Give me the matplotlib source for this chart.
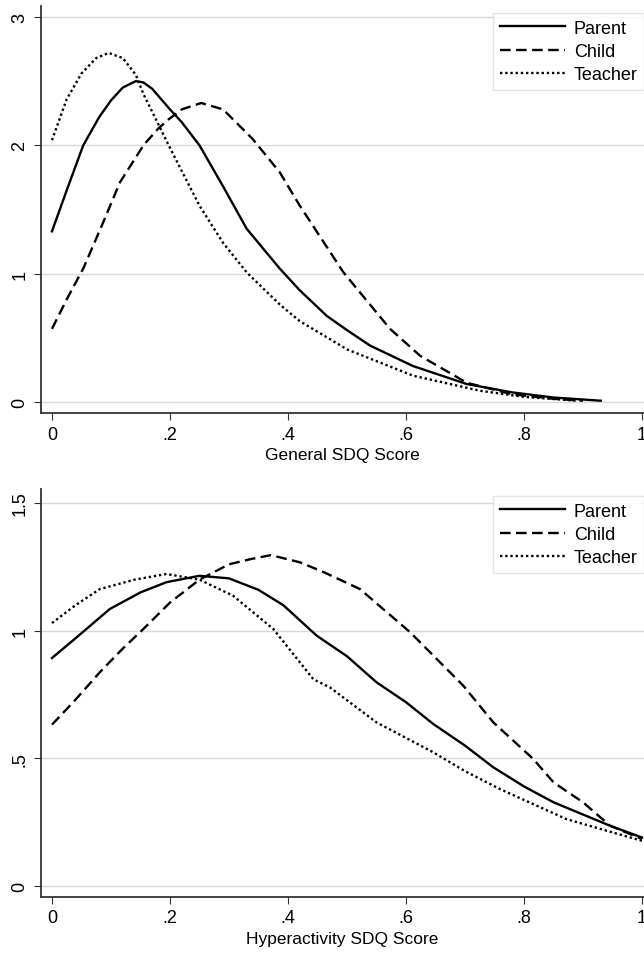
import numpy as np
import matplotlib.pyplot as plt

plt.rcParams['font.family'] = ['Liberation Sans', 'DejaVu Sans']

# General SDQ score densities
gen_parent_x = [0, 0.025, 0.053, 0.08, 0.1, 0.12, 0.142, 0.155, 0.17, 0.2, 0.22, 0.25, 0.29, 0.33,
                0.386, 0.42, 0.466, 0.5, 0.539, 0.612, 0.703, 0.78, 0.85, 0.93]
gen_parent_y = [1.33, 1.65, 2.0, 2.22, 2.35, 2.45, 2.50, 2.49, 2.44, 2.28, 2.18, 2.0, 1.68, 1.35,
                1.04, 0.87, 0.67, 0.56, 0.44, 0.28, 0.14, 0.075, 0.035, 0.01]

gen_child_x = [0, 0.025, 0.053, 0.085, 0.115, 0.155, 0.18, 0.197, 0.22, 0.253, 0.29, 0.34, 0.386,
               0.42, 0.494, 0.573, 0.624, 0.703, 0.78, 0.85, 0.9]
gen_child_y = [0.57, 0.8, 1.04, 1.38, 1.71, 2.0, 2.13, 2.2, 2.28, 2.33, 2.28, 2.05, 1.79,
               1.53, 1.01, 0.57, 0.36, 0.15, 0.06, 0.025, 0.01]

gen_teacher_x = [0, 0.025, 0.05, 0.075, 0.096, 0.12, 0.142, 0.155, 0.17, 0.2, 0.25, 0.29, 0.33,
                 0.386, 0.42, 0.5, 0.612, 0.725, 0.8, 0.89]
gen_teacher_y = [2.04, 2.36, 2.56, 2.68, 2.72, 2.68, 2.55, 2.40, 2.26, 1.98, 1.53, 1.24, 1.01,
                 0.76, 0.63, 0.41, 0.205, 0.088, 0.04, 0.01]

# Hyperactivity SDQ score densities
hyp_parent_x = [0, 0.05, 0.098, 0.15, 0.194, 0.25, 0.3, 0.35, 0.392, 0.449, 0.5, 0.55, 0.6,
                0.646, 0.7, 0.748, 0.8, 0.85, 0.9, 0.946, 1.0]
hyp_parent_y = [0.893, 0.99, 1.085, 1.15, 1.19, 1.215, 1.205, 1.16, 1.10, 0.98, 0.90, 0.798, 0.72,
                0.635, 0.55, 0.465, 0.39, 0.328, 0.28, 0.236, 0.19]

hyp_child_x = [0, 0.04, 0.081, 0.12, 0.155, 0.2, 0.25, 0.3, 0.336, 0.371, 0.42, 0.46, 0.522,
               0.607, 0.697, 0.748, 0.816, 0.85, 0.9, 0.946, 1.0]
hyp_child_y = [0.632, 0.73, 0.837, 0.93, 1.007, 1.11, 1.2, 1.26, 1.28, 1.296, 1.268, 1.23, 1.163,
               0.994, 0.785, 0.641, 0.497, 0.406, 0.328, 0.236, 0.184]

hyp_teacher_x = [0, 0.04, 0.081, 0.14, 0.194, 0.25, 0.307, 0.375, 0.443, 0.471, 0.55, 0.646,
                 0.7, 0.759, 0.872, 0.95, 1.0]
hyp_teacher_y = [1.03, 1.10, 1.163, 1.20, 1.222, 1.2, 1.137, 1.007, 0.81, 0.778, 0.641, 0.524,
                 0.45, 0.38, 0.262, 0.21, 0.177]

x_ticks = [0, 0.2, 0.4, 0.6, 0.8, 1.0]
x_ticklabels = ['0', '.2', '.4', '.6', '.8', '1']
gen_yticks = [0, 1, 2, 3]
gen_yticklabels = ['0', '1', '2', '3']
hyp_yticks = [0, 0.5, 1.0, 1.5]
hyp_yticklabels = ['0', '.5', '1', '1.5']
labels = ['Parent', 'Child', 'Teacher']

fig = plt.figure(figsize=(6.44, 9.54), dpi=100)
ax1 = fig.add_axes([41/644, 1 - 414/954, 603/644, 407/954])
ax2 = fig.add_axes([41/644, 1 - 898/954, 603/644, 408/954])

styles = [dict(ls='-', lw=1.7), dict(ls=(0, (4.5, 2.3)), lw=1.7), dict(ls=(0, (1, 1.2)), lw=1.7)]


def style_axes(ax, yticks, yticklabels, xlabel):
    ax.set_xticks(x_ticks)
    ax.set_xticklabels(x_ticklabels)
    ax.set_yticks(yticks)
    ax.set_yticklabels(yticklabels, rotation=90, va='center')
    ax.tick_params(labelsize=13, length=5, color='#333333', direction='out', pad=4)
    ax.set_xlabel(xlabel, fontsize=12.5, labelpad=3)
    for s in ['top', 'right']:
        ax.spines[s].set_visible(False)
    for s in ['left', 'bottom']:
        ax.spines[s].set_color('#333333')
        ax.spines[s].set_linewidth(1.3)
    ax.grid(axis='y', color='#d8d8d8', lw=1)
    ax.set_axisbelow(True)
    leg = ax.legend(loc='upper right', bbox_to_anchor=(1.0, 0.982), fontsize=13, handlelength=3.6,
                    frameon=True, fancybox=False, edgecolor='#dddddd', borderpad=0.35,
                    labelspacing=0.35, handletextpad=0.5, borderaxespad=0)
    leg.get_frame().set_linewidth(1)


for xs, ys, lab, st in zip([gen_parent_x, gen_child_x, gen_teacher_x],
                           [gen_parent_y, gen_child_y, gen_teacher_y], labels, styles):
    ax1.plot(xs, ys, color='black', label=lab, **st)
ax1.set_xlim(-0.0186, 1.0034)
ax1.set_ylim(-0.0857, 3.0857)
style_axes(ax1, gen_yticks, gen_yticklabels, 'General SDQ Score')

for xs, ys, lab, st in zip([hyp_parent_x, hyp_child_x, hyp_teacher_x],
                           [hyp_parent_y, hyp_child_y, hyp_teacher_y], labels, styles):
    ax2.plot(xs, ys, color='black', label=lab, **st)
ax2.set_xlim(-0.0186, 1.0034)
ax2.set_ylim(-0.043, 1.555)
style_axes(ax2, hyp_yticks, hyp_yticklabels, 'Hyperactivity SDQ Score')

fig.savefig('out.png', dpi=100)
